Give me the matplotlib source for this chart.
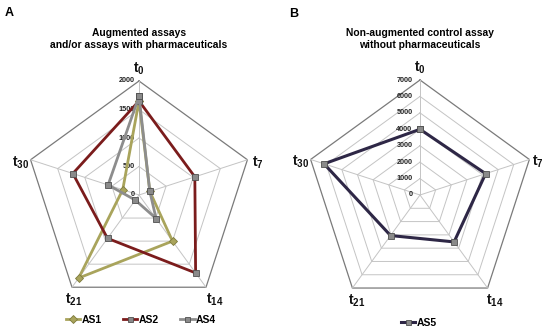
import matplotlib

matplotlib.use("Agg")
import matplotlib.pyplot as plt
import numpy as np

plt.rcParams["font.family"] = ["Liberation Sans", "DejaVu Sans"]
plt.rcParams["mathtext.fontset"] = "custom"
plt.rcParams["mathtext.bf"] = "Liberation Sans:bold"
plt.rcParams["mathtext.rm"] = "Liberation Sans:bold"

# --- data ------------------------------------------------------------------
spokes = ["t0", "t7", "t14", "t21", "t30"]
spoke_labels = [r"$\mathbf{t_0}$", r"$\mathbf{t_7}$", r"$\mathbf{t_{14}}$",
                r"$\mathbf{t_{21}}$", r"$\mathbf{t_{30}}$"]

as1 = [1650, 200, 1000, 1800, 300]
as2 = [1650, 1030, 1690, 940, 1220]
as4 = [1730, 200, 510, 110, 570]
as5 = [4000, 4200, 3530, 3050, 6140]

ticks_a = [0, 500, 1000, 1500, 2000]
ticks_b = [0, 1000, 2000, 3000, 4000, 5000, 6000, 7000]

OLIVE = "#a9a45c"
OLIVE_DARK = "#7d7a3c"
RED = "#7b1c1c"
GREY = "#8d8d8d"
NAVY = "#2e2746"
SQ_FACE = "#8a8a8a"
SQ_EDGE = "#505050"

W, H = 550, 333
ang = np.deg2rad(np.arange(5) * 72.0)  # clockwise from top


def xy(vals):
    v = np.asarray(vals, dtype=float)
    x = v * np.sin(ang)
    y = v * np.cos(ang)
    return np.append(x, x[0]), np.append(y, y[0])


def setup(ax, x0, cx, cy, rpx, rmax):
    # put radar centre at pixel (cx, cy) with radius rpx for rmax
    s = rpx / rmax
    ax.set_xlim((x0 - cx) / s, (x0 + 275 - cx) / s)
    ax.set_ylim(-(H - cy) / s, cy / s)
    ax.axis("off")


def grid(ax, ticks, tick_dx):
    rmax = ticks[-1]
    for t in ticks[1:]:
        gx, gy = xy([t] * 5)
        outer = t == rmax
        ax.plot(gx, gy, color="#7a7a7a" if outer else "#c4c4c4",
                lw=0.9 if outer else 0.7, zorder=1)
    for k in range(5):
        ax.plot([0, rmax * np.sin(ang[k])], [0, rmax * np.cos(ang[k])],
                color="#c4c4c4", lw=0.7, zorder=1)
    for t in ticks:
        ax.annotate(str(t), (0, t), xytext=(tick_dx, 0), textcoords="offset points",
                    ha="right", va="center", fontsize=5.2, fontweight="bold",
                    color="#222222", zorder=2)


def spoke_text(ax, rmax, offsets):
    for k, lab in enumerate(spoke_labels):
        dx, dy, ha, va = offsets[k]
        ax.annotate(lab, (rmax * np.sin(ang[k]), rmax * np.cos(ang[k])),
                    xytext=(dx, dy), textcoords="offset points",
                    ha=ha, va=va, fontsize=10, color="#111111")


fig = plt.figure(figsize=(W / 100, H / 100), dpi=100)

# --- panel A ----------------------------------------------------------------
axa = fig.add_axes([0, 0, 0.5, 1])
setup(axa, 0, 139, 195, 114, 2000)
grid(axa, ticks_a, -3.0)
lx, ly = xy(as1)
axa.plot(lx, ly, color=OLIVE, lw=2, marker="D", ms=4, mfc=OLIVE,
         mec=OLIVE_DARK, mew=0.6, zorder=3, label="AS1")
lx, ly = xy(as2)
axa.plot(lx, ly, color=RED, lw=2, marker="s", ms=4, mfc=SQ_FACE,
         mec=SQ_EDGE, mew=0.6, zorder=4, label="AS2")
lx, ly = xy(as4)
axa.plot(lx, ly, color=GREY, lw=2, marker="s", ms=4, mfc=SQ_FACE,
         mec=SQ_EDGE, mew=0.6, zorder=5, label="AS4")
spoke_text(axa, 2000, [(0, 3, "center", "bottom"),
                       (3, -2, "left", "center"),
                       (6, -3, "center", "top"),
                       (1, -3, "center", "top"),
                       (-1, -2, "right", "center")])
axa.legend(loc="center", bbox_to_anchor=(141 / 275, 1 - 320 / H), ncol=3,
           frameon=False, prop={"weight": "bold", "size": 7.5},
           handlelength=1.4, handletextpad=0.15, columnspacing=2.0,
           markerscale=0.9)
fig.text(139 / W, 1 - 39.5 / H, "Augmented assays\nand/or assays with pharmaceuticals",
         ha="center", va="center", fontsize=7.4, fontweight="bold",
         linespacing=1.25)
fig.text(9.5 / W, 1 - 12.5 / H, "A", ha="center", va="center",
         fontsize=9, fontweight="bold")

# --- panel B ----------------------------------------------------------------
axb = fig.add_axes([0.5, 0, 0.5, 1])
setup(axb, 275, 420, 195, 115, 7000)
grid(axb, ticks_b, -5.5)
lx, ly = xy(as5)
axb.plot(lx, ly, color=NAVY, lw=2.2, marker="s", ms=4, mfc=SQ_FACE,
         mec=SQ_EDGE, mew=0.6, zorder=3, label="AS5")
spoke_text(axb, 7000, [(0, 3, "center", "bottom"),
                       (2, -2, "left", "center"),
                       (5, -3, "center", "top"),
                       (3, -3, "center", "top"),
                       (-1, -2, "right", "center")])
axb.legend(loc="center", bbox_to_anchor=((419 - 275) / 275, 1 - 323 / H),
           frameon=False, prop={"weight": "bold", "size": 7.5},
           handlelength=1.4, handletextpad=0.15, markerscale=0.9)
fig.text(420 / W, 1 - 39.5 / H, "Non-augmented control assay\nwithout pharmaceuticals",
         ha="center", va="center", fontsize=7.4, fontweight="bold",
         linespacing=1.25)
fig.text(294 / W, 1 - 14 / H, "B", ha="center", va="center",
         fontsize=9, fontweight="bold")

fig.savefig("out.png", dpi=100)
